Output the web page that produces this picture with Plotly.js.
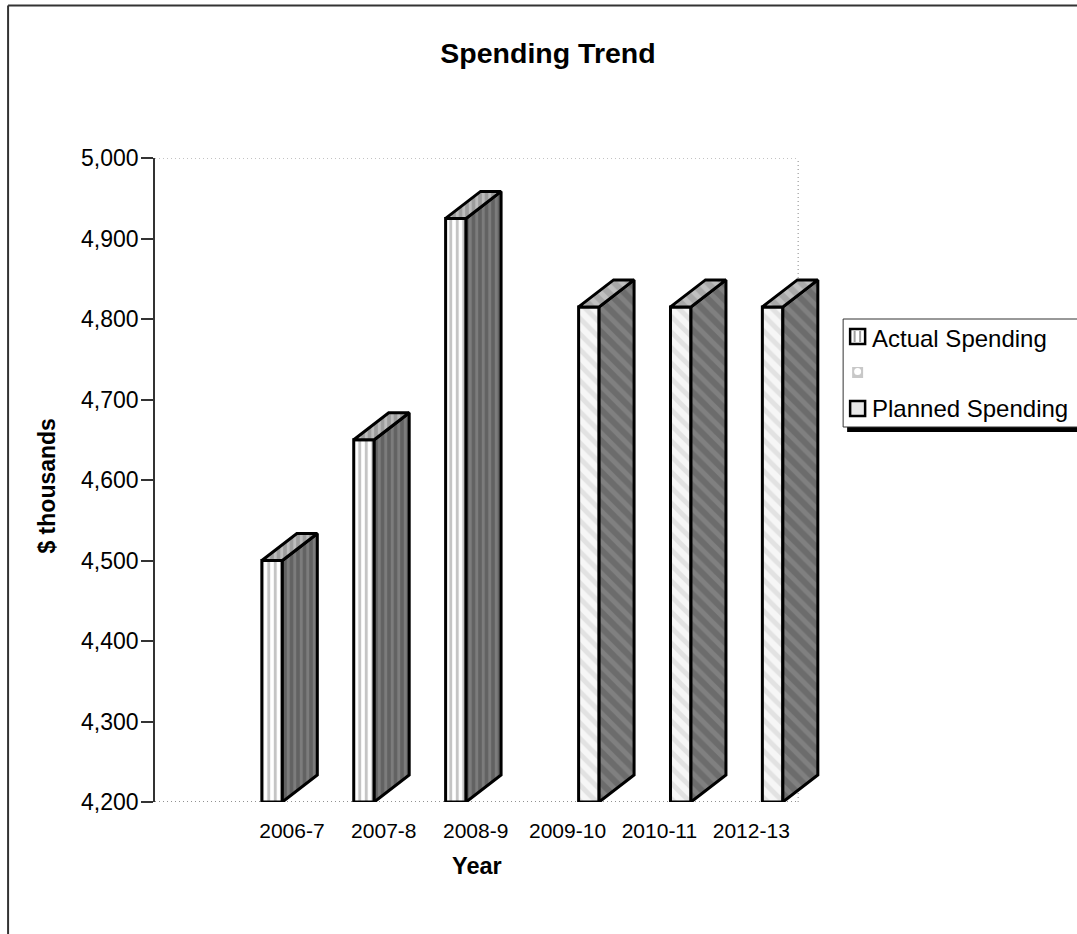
<!DOCTYPE html>
<html><head><meta charset="utf-8">
<script src="https://cdn.plot.ly/plotly-3.0.1.min.js"></script>
<style>html,body{margin:0;padding:0;background:#fff}#c{width:1077px;height:934px}</style>
</head><body><div id="c"></div>
<script>
const categories = ['2006-7','2007-8','2008-9','2009-10','2010-11','2012-13'];
const actualSpending = [4500,4650,4925,null,null,null];
const plannedSpending = [null,null,null,4815,4815,4815];
const seriesNames = ['Actual Spending','Planned Spending'];
const yTicks = [4200,4300,4400,4500,4600,4700,4800,4900,5000];
const chartTitle = 'Spending Trend', xTitle = 'Year', yTitle = '$ thousands';

const W=1077,H=934,L=154.5,R=798,T=158,B=802,UNIT=(R-L)/7;
const yBase=4200,yTop=5000;
const catPos=categories.map((_,i)=>i+1);
const barW=0.223, depthX=35/UNIT, depthY=27/(B-T)*(yTop-yBase);
const off={actual:0.2745,planned:0.722};
const px=x=>(x-L)/(W-L), py=y=>(B-y)/(B-T);
const FONT='"Liberation Sans", Arial, sans-serif';
const EDGE=3;

function bar(vals,o,name,pat){
  return {type:'bar',name,x:catPos.map(c=>c+o),y:vals.map(v=>v==null?null:v-yBase),base:yBase,width:barW,
    cliponaxis:false,hoverinfo:'skip',showlegend:false,
    marker:{line:{color:'#000',width:EDGE},pattern:pat}};
}
function faces(vals,o,kind,bg,pat){
  const xs=[],ys=[];
  vals.forEach((v,i)=>{
    if(v==null)return;
    const l=catPos[i]+o-barW/2,r=l+barW;
    if(kind==='side'){
      xs.push(r,r+depthX,r+depthX,r,r,null);
      ys.push(v,v+depthY,yBase+depthY,yBase,v,null);
    }else{
      xs.push(l,l+depthX,r+depthX,r,l,null);
      ys.push(v,v+depthY,v+depthY,v,v,null);
    }
  });
  return {type:'scatter',mode:'lines',x:xs,y:ys,fill:'toself',fillcolor:bg,fillpattern:pat,cliponaxis:false,
    line:{color:'#000',width:EDGE},hoverinfo:'skip',showlegend:false};
}
const frontA={shape:'|',bgcolor:'#ffffff',fgcolor:'#c4c4c4',size:6.5,solidity:0.45};
const sideA={shape:'|',bgcolor:'#626262',fgcolor:'#7c7c7c',size:6.5,solidity:0.45,fillmode:'replace'};
const topA={shape:'|',bgcolor:'#9c9c9c',fgcolor:'#bcbcbc',size:6.5,solidity:0.45,fillmode:'replace'};
const frontP={shape:'\\',bgcolor:'#f6f6f6',fgcolor:'#e2e2e2',size:11,solidity:0.45};
const sideP={shape:'\\',bgcolor:'#6c6c6c',fgcolor:'#808080',size:11,solidity:0.45,fillmode:'replace'};
const topP={shape:'\\',bgcolor:'#a8a8a8',fgcolor:'#c0c0c0',size:11,solidity:0.45,fillmode:'replace'};

const data=[
  bar(actualSpending,off.actual,seriesNames[0],frontA),
  bar(plannedSpending,off.planned,seriesNames[1],frontP),
  faces(actualSpending,off.actual,'side','#626262',sideA),
  faces(actualSpending,off.actual,'top','#9c9c9c',topA),
  faces(plannedSpending,off.planned,'side','#6c6c6c',sideP),
  faces(plannedSpending,off.planned,'top','#a8a8a8',topP)
];

const frame=(x0,y0,x1,y1,o)=>Object.assign({type:'rect',xref:'paper',yref:'paper',x0:px(x0),x1:px(x1),y0:py(y1),y1:py(y0),layer:'above'},o);
const pline=(x0,y0,x1,y1,ln)=>({type:'line',xref:'paper',yref:'paper',x0:px(x0),x1:px(x1),y0:py(y0),y1:py(y1),line:ln,layer:'below'});
const dotted={color:'#888',width:1,dash:'1px,3px'};
const dottedBase={color:'#222',width:1,dash:'1px,3px'};
const shapes=[
  pline(7.5,5.5,7.5,H,{color:'#333',width:2}),
  pline(7.5,5.5,W,5.5,{color:'#333',width:2}),
  {type:'line',xref:'x',yref:'y',x0:0,x1:7,y0:yTop,y1:yTop,line:dotted,layer:'below'},
  {type:'line',xref:'x',yref:'y',x0:0,x1:7,y0:yBase,y1:yBase,line:dottedBase,layer:'below'},
  {type:'line',xref:'x',yref:'y',x0:7,x1:7,y0:yBase,y1:yTop,line:dotted,layer:'below'},
  frame(847,427,1080,432,{fillcolor:'#000',line:{width:0}}),
  frame(843,319,1082,427,{fillcolor:'#fff',line:{color:'#333',width:1}}),
  frame(850,329,865,344,{fillcolor:'#fff',line:{color:'#000',width:2.5}}),
  frame(853.5,331,855.5,342,{fillcolor:'#a0a0a0',line:{width:0}}),
  frame(859,331,861,342,{fillcolor:'#a0a0a0',line:{width:0}}),
  frame(852,367,863,378,{fillcolor:'#c8c8c8',line:{width:0}}),
  {type:'circle',xref:'paper',yref:'paper',x0:px(854),x1:px(861),y0:py(375),y1:py(368),fillcolor:'#fff',line:{width:0},layer:'above'},
  frame(850,401,865,416,{fillcolor:'#e8e8e8',line:{color:'#000',width:2.5}})
];
const legendText=(t,y)=>({xref:'paper',yref:'paper',x:px(870),y:py(y),xanchor:'left',yanchor:'middle',showarrow:false,text:t,font:{family:FONT,size:24,color:'#000'},align:'left'});
const annotations=[
  legendText(seriesNames[0],338),legendText(seriesNames[1],408),
  {xref:'paper',yref:'paper',x:px(476.5),y:py(866),xanchor:'center',yanchor:'middle',showarrow:false,text:'<b>'+xTitle+'</b>',font:{family:FONT,size:23.5,color:'#000'}},
  {xref:'paper',yref:'paper',x:px(46),y:py(486),xanchor:'center',yanchor:'middle',showarrow:false,textangle:-90,text:'<b>'+yTitle+'</b>',font:{family:FONT,size:23,color:'#000'}}
];

Plotly.newPlot('c',data,{
  width:W,height:H,autosize:false,paper_bgcolor:'rgba(0,0,0,0)',plot_bgcolor:'rgba(0,0,0,0)',
  margin:{l:L,r:0,t:T,b:H-B,pad:0},showlegend:false,barmode:'overlay',
  title:{text:'<b>'+chartTitle+'</b>',font:{family:FONT,size:28.5,color:'#000'},x:548/W,xanchor:'center',y:1-53/H,yanchor:'middle'},
  xaxis:{range:[0,(W-L)/UNIT],showgrid:false,zeroline:false,showline:false,ticks:'',
    tickmode:'array',tickvals:catPos.map(c=>c+0.49),ticktext:categories,
    tickfont:{family:FONT,size:21,color:'#000'},ticklabelstandoff:14,automargin:false},
  yaxis:{range:[yBase,yTop],showgrid:false,zeroline:false,showline:true,linecolor:'#333',linewidth:1.5,
    ticks:'outside',ticklen:12,tickcolor:'#333',tickwidth:1.5,tickmode:'array',tickvals:yTicks,
    ticktext:yTicks.map(v=>v.toLocaleString('en-US')),tickfont:{family:FONT,size:23,color:'#000'},automargin:false,ticklabelstandoff:-2},
  shapes,annotations
},{displayModeBar:false,responsive:false});
</script></body></html>
